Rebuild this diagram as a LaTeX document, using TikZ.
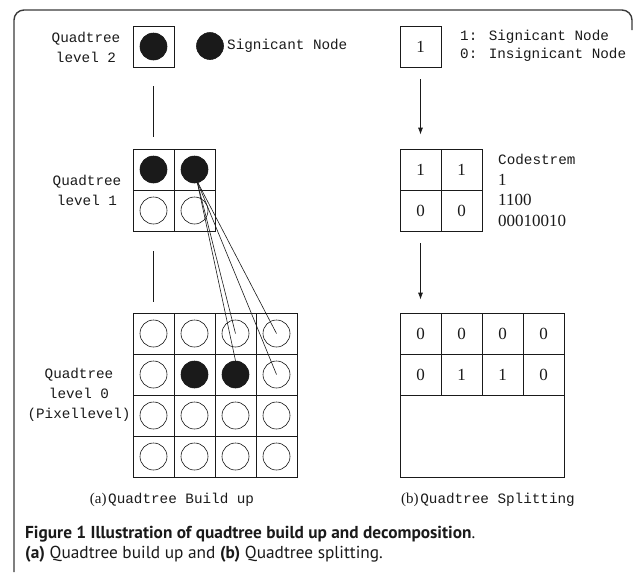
\documentclass[tikz,border=0pt]{standalone}
\usepackage{fontspec}
\setmainfont{Liberation Serif}
\newfontfamily\monof{Liberation Mono}
\newfontfamily\capfont{PT Sans}
\usetikzlibrary{arrows.meta}
\definecolor{ink}{HTML}{1A1A1A}
\definecolor{framec}{HTML}{3A3A3A}
\begin{document}
\begin{tikzpicture}[x=1pt,y=-1pt,
  cell/.style={draw=ink,minimum size=41pt,inner sep=0pt,line width=0.8pt},
  dot/.style={draw=ink,circle,minimum size=27pt,inner sep=0pt,line width=0.6pt},
  full/.style={dot,fill=ink},
  lab/.style={font=\monof\fontsize{14.3}{20}\selectfont,align=center,inner sep=0pt,text=ink},
  num/.style={font=\fontsize{17}{20}\selectfont,text=ink},
  link/.style={draw=ink,line width=0.6pt},
  tie/.style={draw=ink,line width=0.8pt},
  arr/.style={draw=ink,line width=0.8pt,-{Latex[length=7pt,width=5pt]}},
  figtext/.style={font=\capfont\fontsize{17.3}{20}\selectfont,anchor=base west,inner sep=0pt,text=ink}]
\useasboundingbox (0,0) rectangle (633,576);
% frame
\draw[framec,line width=1.4pt,rounded corners=10pt] (14,572) -- (14,10) -- (632,10) -- (632,30);

% ---------------- left: quadtree build up ----------------
\node[lab] (lab2) at (86,47) {Quadtree\\level 2};
\node[cell] (a2) at (153.5,46.5) {};
\node[full] (a2c) at (a2) {};
\node[full] (legdot) at (210,46) {};
\node[lab,anchor=west] (legtxt) at (227,46) {Signicant Node};

\node[lab] (lab1) at (87,190) {Quadtree\\level 1};
\foreach \i in {0,1}{
  \foreach \j in {0,1}{
    \node[cell] (a1-\i-\j) at (153.5+41*\i,169.5+41*\j) {};
  }
}
\node[full] (c1-0-0) at (a1-0-0) {};
\node[full] (c1-1-0) at (a1-1-0) {};
\node[dot] (c1-0-1) at (a1-0-1) {};
\node[dot] (c1-1-1) at (a1-1-1) {};

\node[lab] (lab0) at (79,395) {Quadtree\\level 0\\(Pixellevel)};
\foreach \i in {0,...,3}{
  \foreach \j in {0,...,3}{
    \node[cell] (a0-\i-\j) at (153.5+41*\i,333.5+41*\j) {};
  }
}
\foreach \i/\j in {0/0,1/0,2/0,3/0,0/1,3/1,0/2,1/2,2/2,3/2,0/3,1/3,2/3,3/3}{
  \node[dot] (c0-\i-\j) at (a0-\i-\j) {};
}
\node[full] (c0-1-1) at (a0-1-1) {};
\node[full] (c0-2-1) at (a0-2-1) {};

\draw[tie] ([yshift=-19pt]a2.south) -- ([yshift=12pt]a1-0-0.north);
\draw[tie] ([yshift=-20pt]a1-0-1.south) -- ([yshift=11pt]a0-0-0.north);

\coordinate (src) at (197,181);
\draw[link] (src) -- (c0-2-0.center);
\draw[link] (src) -- (c0-3-0.center);
\draw[link] (src) -- (c0-2-1.north);
\draw[link] (src) -- (c0-3-1.center);

\node[inner sep=0pt,text=ink] (capa) at (172,500) {{\fontsize{15}{18}\selectfont(a)}\,{\monof\fontsize{14.3}{18}\selectfont Quadtree Build up}};

% ---------------- right: quadtree splitting ----------------
\node[cell,num] (b2) at (420.5,46.5) {1};
\node[lab,align=left,anchor=west,font=\monof\fontsize{14.3}{18}\selectfont] (legend) at (460,46) {1: Signicant Node\\0: Insignicant Node};

\node[cell,num] (b1-0-0) at (420.5,169.5) {1};
\node[cell,num] (b1-1-0) at (461.5,169.5) {1};
\node[cell,num] (b1-0-1) at (420.5,210.5) {0};
\node[cell,num] (b1-1-1) at (461.5,210.5) {0};

\node[lab,anchor=west] (cs0) at (498,159) {Codestrem};
\node[num,anchor=west,inner sep=0pt] (cs1) at (498,180) {1};
\node[num,anchor=west,inner sep=0pt] (cs2) at (498,200) {1100};
\node[num,anchor=west,inner sep=0pt] (cs3) at (498,221) {00010010};

\foreach \i/\v in {0/0,1/0,2/0,3/0}{
  \node[cell,num] (b0-\i-0) at (420.5+41*\i,333.5) {\v};
}
\foreach \i/\v in {0/0,1/1,2/1,3/0}{
  \node[cell,num] (b0-\i-1) at (420.5+41*\i,374.5) {\v};
}
\node[draw=ink,line width=0.8pt,minimum width=164pt,minimum height=82pt,inner sep=0pt] (brest) at (482,436) {};

\draw[arr] ([yshift=-12pt]b2.south) -- ([yshift=14pt]b1-0-0.north);
\draw[arr] ([yshift=-12pt]b1-0-1.south) -- ([yshift=13pt]b0-0-0.north);

\node[inner sep=0pt,text=ink] (capb) at (488,500) {{\fontsize{15}{18}\selectfont(b)}\,{\monof\fontsize{14.3}{18}\selectfont Quadtree Splitting}};

% ---------------- figure caption ----------------
\node[figtext] (figcap) at (25,538) {\textbf{Figure 1 Illustration of quadtree build up and decomposition}.};
\node[figtext] (figsub) at (25,558) {\textbf{(a)} Quadtree build up and \textbf{(b)} Quadtree splitting.};
\end{tikzpicture}
\end{document}
